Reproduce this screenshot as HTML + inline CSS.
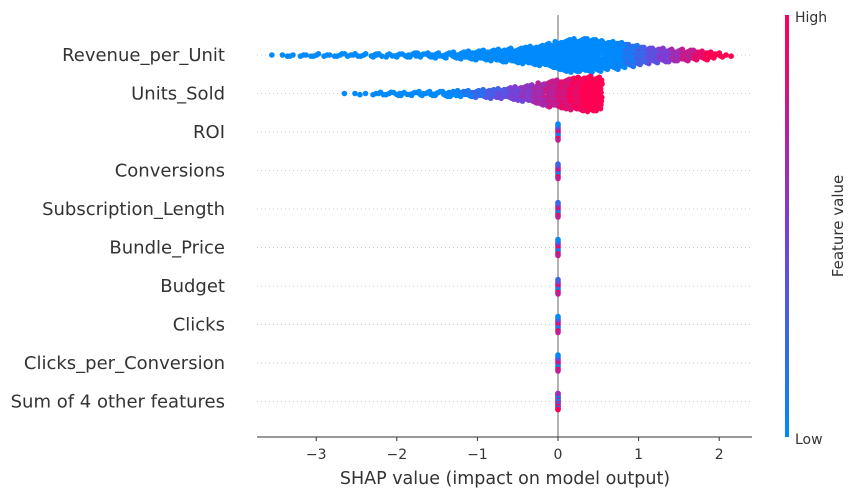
<!DOCTYPE html>
<html><head><meta charset="utf-8"><style>
body{margin:0;background:#fff;}
svg text{font-family:"DejaVu Sans","Liberation Sans",sans-serif;}
</style></head><body>
<svg id="chart" width="857" height="497" xmlns="http://www.w3.org/2000/svg">
<defs><linearGradient id="cb" x1="0" y1="1" x2="0" y2="0">
<stop offset="0" stop-color="#008afb"/><stop offset="0.5" stop-color="#7a3fd8"/><stop offset="1" stop-color="#ff0052"/></linearGradient></defs>
<g id="grid"></g>
<line x1="558" y1="15" x2="558" y2="437" stroke="#999" stroke-width="1.5"/>
<g id="dots"></g>
<line x1="257" y1="437" x2="752" y2="437" stroke="#333" stroke-width="1"/>
<g id="ticks"></g>
<text x="505" y="484" font-size="17.5" text-anchor="middle" fill="#333">SHAP value (impact on model output)</text>
<rect x="785" y="15" width="4" height="422" fill="url(#cb)"/>
<text x="795" y="22" font-size="14" fill="#333">High</text>
<text x="795" y="444" font-size="14" fill="#333">Low</text>
<text transform="translate(843,226) rotate(-90)" font-size="15" text-anchor="middle" fill="#333">Feature value</text>
</svg>
<script>
const features=["Revenue_per_Unit","Units_Sold","ROI","Conversions","Subscription_Length","Bundle_Price","Budget","Clicks","Clicks_per_Conversion","Sum of 4 other features"];
const xTicks=[-3,-2,-1,0,1,2];
const row1Start=-3.5;
const row1Counts=[1,2,2,2,2,3,2,2,3,3,3,3,4,3,4,4,4,5,5,5,6,6,7,8,9,10,11,12,14,15,16,18,20,22,26,30,34,36,35,36,34,30,30,27,24,21,18,16,15,14,13,12,11,10,8,5,2];
const row2Start=-2.6;
const row2Counts=[1,2,1,2,3,3,4,4,4,5,5,5,6,6,7,7,8,9,10,11,13,15,17,20,24,28,30,32,34,36,38,36];
const smallCounts=[11,10,10,11,10,11,11,11];
const ns="http://www.w3.org/2000/svg";
const X=v=>558+v*80.6;
const rowY=i=>55+i*38.5;
function col(t){t=Math.max(0,Math.min(1,t));
 const a=[0,138,251],m=[122,63,216],b=[255,0,82];let c;
 if(t<0.5){const u=t/0.5;c=a.map((x,k)=>x+(m[k]-x)*u);}else{const u=(t-0.5)/0.5;c=m.map((x,k)=>x+(b[k]-x)*u);}
 return `rgb(${c.map(Math.round).join(',')})`;}
const grid=document.getElementById('grid'),dots=document.getElementById('dots'),ticks=document.getElementById('ticks'),svg=document.getElementById('chart');
features.forEach((f,i)=>{
 const l=document.createElementNS(ns,'line');
 
 
 l.setAttribute('x1',257);l.setAttribute('x2',752);l.setAttribute('y1',rowY(i));l.setAttribute('y2',rowY(i));
 l.setAttribute('stroke','#ccc');l.setAttribute('stroke-dasharray','1,3');grid.appendChild(l);
 const t=document.createElementNS(ns,'text');
 
 
 t.setAttribute('x',225);t.setAttribute('y',rowY(i)+6);t.setAttribute('text-anchor','end');t.setAttribute('font-size','18');t.setAttribute('fill','#333');
 t.textContent=f;svg.appendChild(t);
});
xTicks.forEach(v=>{
 const l=document.createElementNS(ns,'line');
 
 
 l.setAttribute('x1',X(v));l.setAttribute('x2',X(v));l.setAttribute('y1',437);l.setAttribute('y2',441);l.setAttribute('stroke','#333');ticks.appendChild(l);
 const t=document.createElementNS(ns,'text');
 
 
 t.setAttribute('x',X(v));t.setAttribute('y',459);t.setAttribute('text-anchor','middle');t.setAttribute('font-size','14');t.setAttribute('fill','#333');
 t.textContent=(v<0?'\u2212'+(-v):v);ticks.appendChild(t);
});
function dot(x,y,c){const d=document.createElementNS(ns,'circle');
 
 
 d.setAttribute('cx',x);d.setAttribute('cy',y);d.setAttribute('r',2.8);d.setAttribute('fill',c);dots.appendChild(d);}
function swarm(row,start,counts,tf){
 counts.forEach((n,b)=>{const v=start+b*0.1;
  for(let k=0;k<n;k++){const fr=((k*0.618+b*0.31)%1);const vx=v-0.05+fr*0.1;const cx=X(vx);
   const off=(k%2?1:-1)*Math.ceil(k/2)*(n>3?0.95:1.2);
   dot(cx,rowY(row)+off,col(tf(vx)+((k*7)%5-2)*0.04));}
 });}
swarm(0,row1Start,row1Counts,v=>(v-0.75)/1.1);
swarm(1,row2Start,row2Counts,v=>(v+1.3)/1.6);
smallCounts.forEach((n,i)=>{const r=i+2;
 for(let k=0;k<n;k++){const off=(k%2?1:-1)*Math.ceil(k/2)*1.6;
  dot(X(0),rowY(r)+off,col((k*7%5)/4));}
});
for(let k=0;k<11;k++){const off=(k%2?1:-1)*Math.ceil(k/2)*1.6;dot(X(0),rowY(9)+off,col((k*3%4)/3));}
</script>
</body></html>
